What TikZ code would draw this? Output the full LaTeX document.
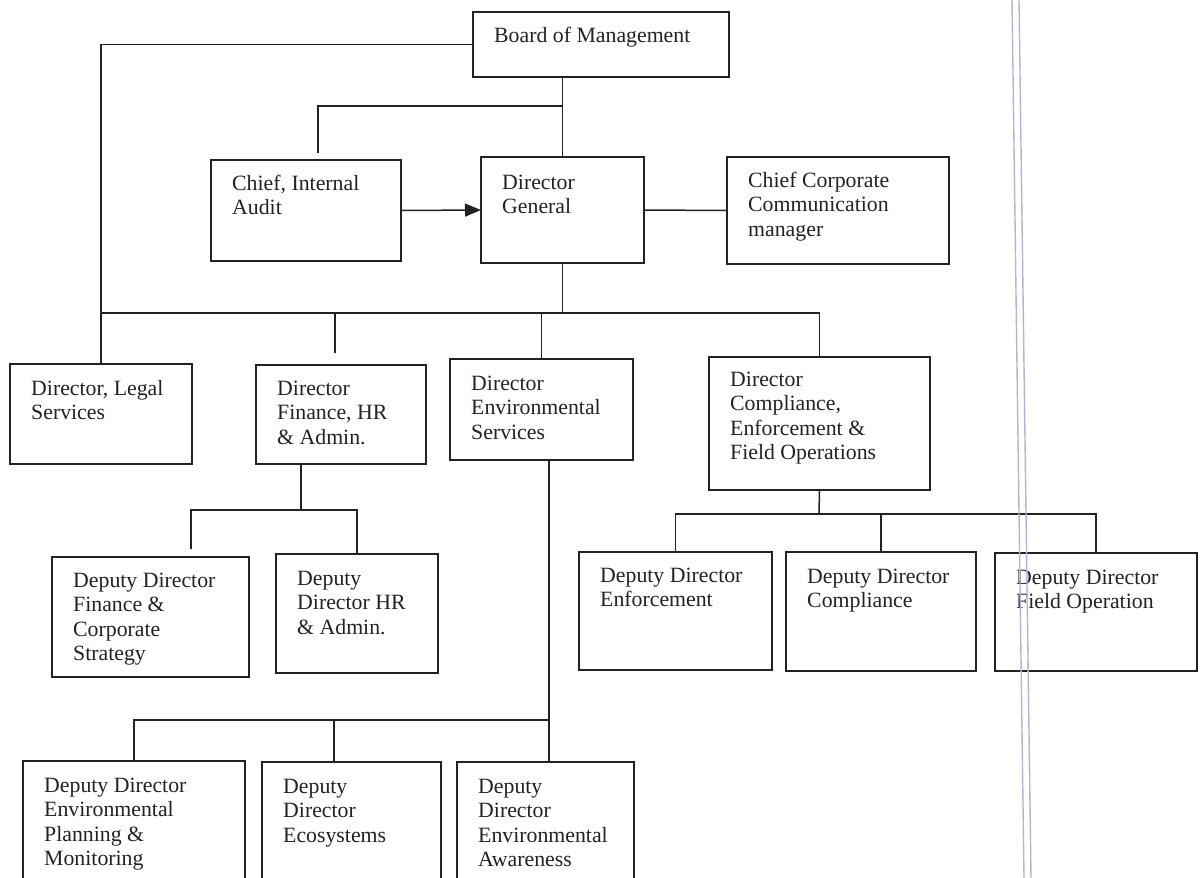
\documentclass[tikz,border=0pt]{standalone}
\usepackage{fontspec}
\setmainfont{Liberation Serif}
\usetikzlibrary{arrows.meta}

\definecolor{ink}{RGB}{34,34,34}
\definecolor{rulecol}{RGB}{184,178,218}

% one organisational unit: name, left, top, right, bottom, first baseline, text
\newcommand\orgunit[7]{%
  \node[unitbox, minimum width={#4-#2}, minimum height={#5-#3}] (#1) at (#2,#3) {};
  \node[unittext] (#1-t) at (#2+21,#6) {\begin{tabular}[t]{@{}l@{}}#7\end{tabular}};%
}

\begin{document}
\begin{tikzpicture}[x=1pt,y=-1pt,
  unitbox/.style={draw=ink, line width=1.5pt, inner sep=0pt, outer sep=0pt, anchor=north west},
  unittext/.style={anchor=base west, inner sep=0pt, text=ink,
                   font=\fontsize{21.8}{24.6}\selectfont},
  link/.style={draw=ink, line width=1.5pt},
  binding/.style={draw=rulecol, line width=1.4pt},
]
\useasboundingbox (0,0) rectangle (1202,878);
\clip (0,0) rectangle (1202,878);

% ---- top level
\orgunit{board}{473}{12}{729}{77}{42}{Board of Management}
\orgunit{audit}{211}{160}{401}{261}{190}{Chief, Internal\\Audit}
\orgunit{dg}{481}{157}{644}{263}{189}{Director\\General}
\orgunit{ccc}{727}{157}{949}{264}{187}{Chief Corporate\\Communication\\manager}

% ---- directors
\orgunit{legal}{10}{364}{192}{464}{395}{Director, Legal\\Services}
\orgunit{finance}{256}{365}{426}{464}{395}{Director\\Finance, HR\\\& Admin.}
\orgunit{envserv}{450}{359}{633}{460}{390}{Director\\Environmental\\Services}
\orgunit{compl}{709}{357}{930}{490}{386}{Director\\Compliance,\\Enforcement \&\\Field Operations}

% ---- deputy directors, finance branch
\orgunit{ddfin}{52}{557}{249}{677}{587}{Deputy Director\\Finance \&\\Corporate\\Strategy}
\orgunit{ddhr}{276}{554}{438}{673}{585}{Deputy\\Director HR\\\& Admin.}

% ---- deputy directors, compliance branch
\orgunit{ddenf}{579}{552}{772}{670}{582}{Deputy Director\\Enforcement}
\orgunit{ddcomp}{786}{552}{976}{671}{583}{Deputy Director\\Compliance}
\orgunit{ddfield}{995}{553}{1197}{671}{584}{Deputy Director\\Field Operation}

% ---- deputy directors, environmental branch (run off the page foot)
\orgunit{ddepm}{23}{761}{245}{900}{792}{Deputy Director\\Environmental\\Planning \&\\Monitoring}
\orgunit{ddeco}{262}{762}{441}{900}{793}{Deputy\\Director\\Ecosystems}
\orgunit{ddaware}{457}{762}{634}{900}{793}{Deputy\\Director\\Environmental\\Awareness}

% ---- junction points
\coordinate (auditTap) at (318,106);
\coordinate (auditEnd) at (318,153);
\coordinate (busL) at (101,313);
\coordinate (finStub) at (335,353);
\coordinate (finBus) at (301,510);
\coordinate (ddfStub) at (191,549);
\coordinate (complBus) at (819,514);
\coordinate (envDrop) at (549,720);
\coordinate (ecoTap) at (334,720);

% ---- connectors, top level
\draw[link] (board.west) -| (legal.north);
\draw[link] (dg.north |- board.south) -- (dg.north);
\draw[link] (dg.north |- auditTap) -- (auditTap) -- (auditEnd);
\draw[link, -{Triangle[length=16pt,width=13pt]}] (audit.east) -- (dg.west);
\draw[link] (dg.east) -- (ccc.west);

% ---- connectors, main bus
\draw[link] (dg.south) -- (dg.south |- busL);
\draw[link] (busL) -| (compl.north);
\draw[link] (finStub |- busL) -- (finStub);
\draw[link] (envserv.north |- busL) -- (envserv.north);

% ---- connectors, finance branch
\draw[link] (finance.south -| finBus) -- (finBus);
\draw[link] (ddfStub) |- (finBus) -| (ddhr.north);

% ---- connectors, compliance branch
\draw[link] (compl.south) -- (complBus);
\draw[link] (ddenf.north) |- (complBus) -| (ddfield.north);
\draw[link] (ddcomp.north |- complBus) -- (ddcomp.north);

% ---- connectors, environmental branch
\draw[link] (envserv.south -| envDrop) -- (envDrop |- ddaware.north);
\draw[link] (ddepm.north) |- (envDrop);
\draw[link] (ecoTap) -- (ecoTap |- ddeco.north);

% ---- double binding rule down the right side
\draw[binding] (1012,0) -- (1024,878);
\draw[binding] (1019,0) -- (1031,878);
\end{tikzpicture}
\end{document}
